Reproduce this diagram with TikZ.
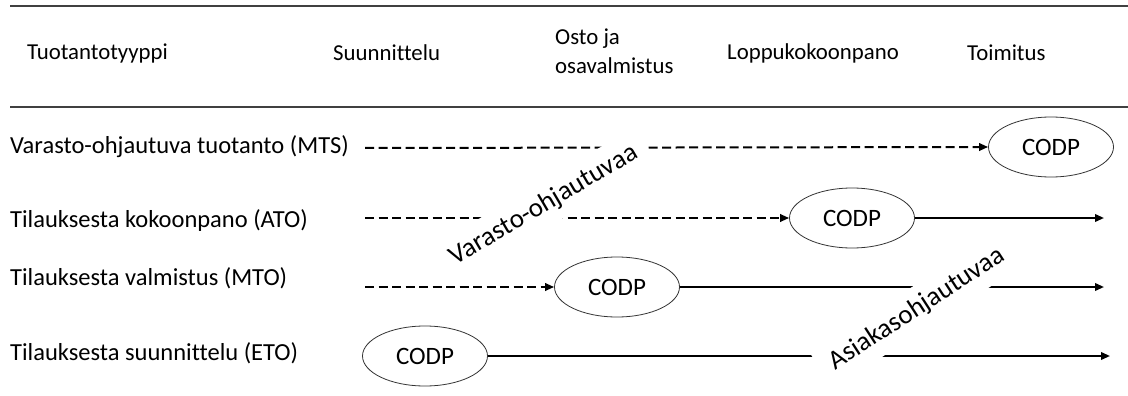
\documentclass[tikz,border=0pt]{standalone}
\usepackage{fontspec}
\setmainfont[Ligatures={NoCommon}]{Carlito}
\usetikzlibrary{arrows.meta,shapes.geometric}
\begin{document}
\begin{tikzpicture}[x=1pt,y=-1pt,
  htxt/.style={font=\fontsize{22.8}{29}\selectfont, inner sep=0pt},
  txt/.style={font=\fontsize{24.5}{29}\selectfont, inner sep=0pt},
  codp/.style={draw, ellipse, line width=0.8pt, draw=black!80, minimum width=125pt, minimum height=60pt, inner sep=0pt, font=\fontsize{25}{29}\selectfont},
  dsh/.style={line width=2pt, dash pattern=on 9pt off 4.5pt, -{Triangle[length=9pt,width=7.5pt]}},
  sol/.style={line width=2pt, -{Triangle[length=9pt,width=7.5pt]}},
  diag/.style={fill=white, inner xsep=12pt, inner ysep=9.5pt, font=\fontsize{27}{31}\selectfont},
  rule/.style={line width=1.6pt, draw=black!75}]
\useasboundingbox (0,0) rectangle (1128,396);
% header rules
\coordinate (t1) at (10,6); \coordinate (t2) at (1128,6);
\coordinate (b1) at (10,107); \coordinate (b2) at (1128,107);
\draw[rule] (t1) -- (t2);
\draw[rule] (b1) -- (b2);
% header texts
\node[htxt, anchor=west] (h1) at (27,53) {Tuotantotyyppi};
\node[htxt, anchor=west] (h2) at (333,53) {Suunnittelu};
\node[htxt, anchor=west, align=left] (h3) at (555,51) {Osto ja\\osavalmistus};
\node[htxt, anchor=west] (h4) at (727,53) {Loppukokoonpano};
\node[htxt, anchor=west] (h5) at (967,53) {Toimitus};
% row labels
\node[txt, anchor=west] (r1) at (10,147) {Varasto-ohjautuva tuotanto (MTS)};
\node[txt, anchor=west] (r2) at (10,221) {Tilauksesta kokoonpano (ATO)};
\node[txt, anchor=west] (r3) at (10,278) {Tilauksesta valmistus (MTO)};
\node[txt, anchor=west] (r4) at (10,353) {Tilauksesta suunnittelu (ETO)};
% CODP ellipses
\node[codp] (c1) at (1051,147) {CODP};
\node[codp] (c2) at (852,218) {CODP};
\node[codp] (c3) at (617,287) {CODP};
\node[codp] (c4) at (425,356) {CODP};
% line starts / ends
\coordinate (s1) at (365,148);
\coordinate (s2) at (365,218);
\coordinate (s3) at (365,287);
\coordinate (e2) at (1104,218);
\coordinate (e3) at (1104,287);
\coordinate (e4) at (1110,356);
\draw[dsh] (s1) -- (c1.west);
\draw[dsh] (s2) -- (c2.west);
\draw[dsh] (s3) -- (c3.west);
\draw[sol] (c2.east) -- (e2);
\draw[sol] (c3.east) -- (e3);
\draw[sol] (c4.east) -- (e4);
% diagonal labels
\node[diag, rotate=30.5] (v) at (544,205) {Varasto-ohjautuvaa};
\node[diag, rotate=33] (a) at (917,309) {Asiakasohjautuvaa};
\end{tikzpicture}
\end{document}
